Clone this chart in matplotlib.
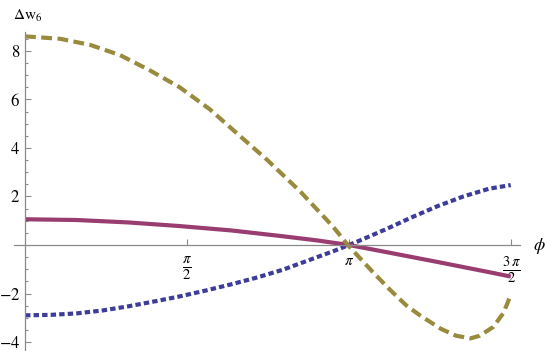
import numpy as np
import matplotlib
matplotlib.use("Agg")
import matplotlib.pyplot as plt
from matplotlib.ticker import FixedLocator

plt.rcParams["font.family"] = ["Liberation Serif", "DejaVu Serif"]
plt.rcParams["mathtext.fontset"] = "stix"

# Werte (phi in rad)
phi_gold = [0.0, 0.34, 0.63, 0.92, 1.21, 1.50, 1.79, 2.05, 2.35, 2.67, 2.99,
            3.13, 3.38, 3.54, 3.70, 3.83, 4.03, 4.18, 4.32, 4.41, 4.54, 4.64, 4.71]
w_gold = [8.6, 8.5, 8.25, 7.83, 7.2, 6.5, 5.6, 4.62, 3.5, 2.2, 0.74,
          0.0, -1.15, -1.85, -2.5, -2.9, -3.45, -3.74, -3.85, -3.74, -3.38, -2.8, -2.06]

phi_purple = [0.0, 0.5, 1.0, 1.5, 2.0, 2.5, 2.83, 3.14, 3.5, 4.0, 4.5, 4.71]
w_purple = [1.06, 1.03, 0.93, 0.78, 0.6, 0.36, 0.19, 0.0, -0.29, -0.7, -1.12, -1.3]

phi_blue = [0.0, 0.25, 0.5, 0.75, 1.0, 1.25, 1.5, 1.75, 2.0, 2.25, 2.5,
            2.75, 3.0, 3.14, 3.25, 3.5, 3.75, 4.0, 4.25, 4.5, 4.71]
w_blue = [-2.9, -2.88, -2.82, -2.7, -2.53, -2.33, -2.12, -1.88, -1.62, -1.34, -1.02,
          -0.63, -0.24, 0.0, 0.19, 0.65, 1.14, 1.6, 2.0, 2.32, 2.47]

x_ticks = [np.pi / 2, np.pi, 3 * np.pi / 2]
x_labels = [r"$\frac{\pi}{2}$", r"$\pi$", r"$\frac{3\,\pi}{2}$"]
y_ticks = [-4, -2, 2, 4, 6, 8]

c_blue = (0.24, 0.24, 0.6)
c_purple = (0.6, 0.24, 0.442)
c_gold = (0.6, 0.547, 0.24)
c_axis = "#8a8a8a"

W, H = 545, 351
fig = plt.figure(figsize=(W / 100, H / 100), dpi=100)
ax = fig.add_axes([14 / W, 0, 506 / W, 319 / H])
ax.set_xlim(-0.107, 4.80)
ax.set_ylim(-4.37, 8.78)

lw = 3.0
ax.plot(phi_blue, w_blue, color=c_blue, lw=lw, dashes=(1.3, 0.75),
        dash_capstyle="butt")
ax.plot(phi_purple, w_purple, color=c_purple, lw=lw, solid_capstyle="butt")
ax.plot(phi_gold, w_gold, color=c_gold, lw=lw, dashes=(2.6, 1.3),
        dash_capstyle="butt")

# Achsen im Mathematica-Stil
for s in ["top", "right"]:
    ax.spines[s].set_visible(False)
ax.spines["left"].set_position(("data", 0))
ax.spines["bottom"].set_position(("data", 0))
for s in ["left", "bottom"]:
    ax.spines[s].set_color(c_axis)
    ax.spines[s].set_linewidth(0.9)

ax.xaxis.set_major_locator(FixedLocator(x_ticks))
ax.set_xticklabels(x_labels, fontsize=15)
ax.get_xticklabels()[1].set_fontsize(11)
ax.yaxis.set_major_locator(FixedLocator(y_ticks))
ax.set_yticklabels([f"${v:g}$" for v in y_ticks], fontsize=12)
minor = [v / 2 for v in range(-8, 18) if v % 4 != 0]
ax.yaxis.set_minor_locator(FixedLocator(minor))

ax.tick_params(axis="both", which="major", direction="in", length=4.5,
               width=0.8, color=c_axis, pad=3.5)
ax.tick_params(axis="y", which="minor", direction="in", length=2.3,
               width=0.8, color=c_axis)
ax.tick_params(axis="x", which="major", pad=7)
ax.patch.set_alpha(0)

fig.text(13 / W, 1 - 20 / H, r"$\Delta\mathrm{w}_6$", fontsize=11, ha="left", va="baseline")
fig.text(533 / W, 1 - 250 / H, r"$\phi$", fontsize=13, ha="left", va="baseline")

fig.savefig("out.png", dpi=100)
